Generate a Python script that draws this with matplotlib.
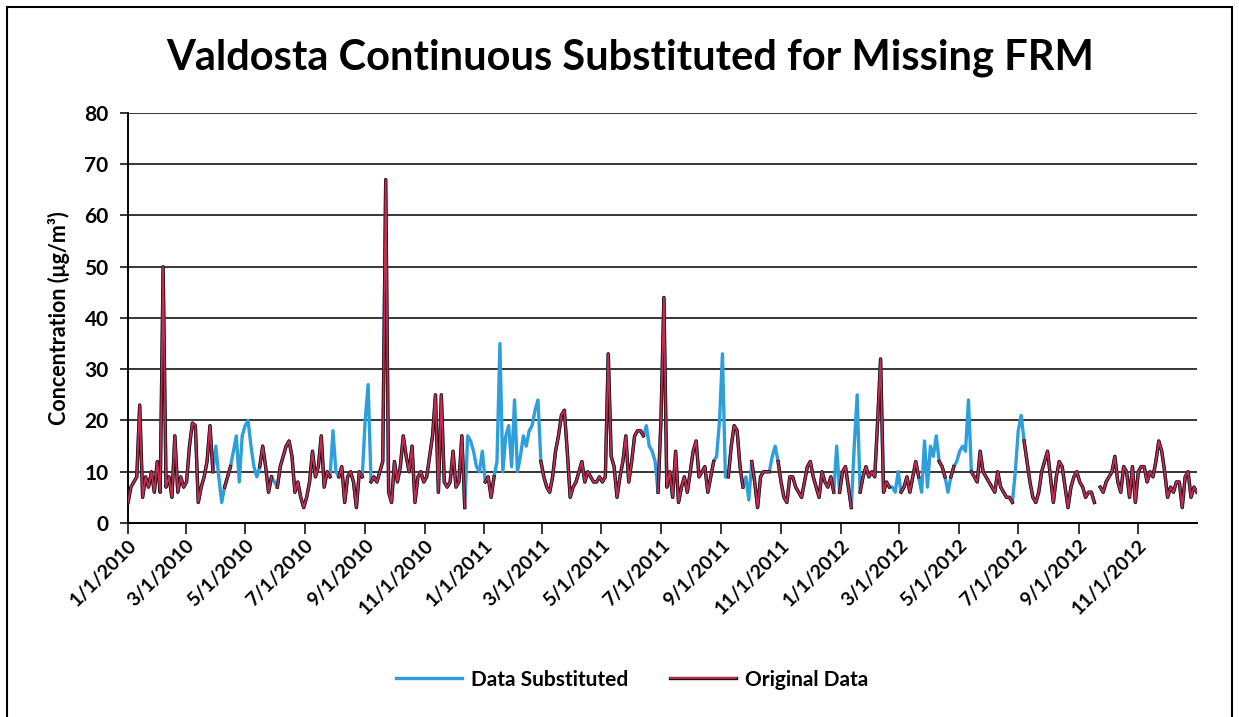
import numpy as np
import pandas as pd
import matplotlib
matplotlib.use("Agg")
from matplotlib import pyplot as plt
import matplotlib.dates as mdates
from matplotlib.lines import Line2D
from matplotlib.patches import Rectangle

plt.rcParams['font.family'] = ['Lato', 'DejaVu Sans']

# PM2.5 concentration, one value every 3 days starting 1/1/2010
conc = [
    4, 7, 8, 9, 23, 5, 9, 7, 10, 6, 12, 6, 50, 7, 9, 5, 17, 6, 9, 7,          # day 0
    8, 15, 19.5, 19, 4, 7, 9, 12, 19, 10, 15, 9, 4, 7, 9, 11, 14, 17, 8, 17,  # day 60
    19, 20, 15, 11, 9, 11, 15, 11, 6, 9, 8, 7, 11, 13, 15, 16, 13, 6, 8, 5,   # day 120
    3, 5, 8, 14, 9, 11, 17, 7, 10, 9, 18, 10, 9, 11, 4, 9, 10, 8, 3, 10,      # day 180
    9, 20, 27, 8, 9, 8, 10, 12, 67, 6, 4, 12, 8, 11, 17, 13, 10, 15, 4, 9,    # day 240
    10, 8, 9, 13, 17, 25, 6, 25, 8, 7, 8, 14, 7, 8, 17, 3, 17, 16, 14, 11,    # day 300
    10, 14, 8, 9, 5, 9, 12, 35, 10, 17, 19, 11, 24, 10, 13, 17, 15, 18, 19, 22,  # day 360
    24, 12, 9, 7, 6, 9, 14, 17, 21, 22, 14, 5, 7, 8, 10, 12, 8, 10, 9, 8,     # day 420
    8, 9, 8, 9, 33, 13, 11, 5, 9, 12, 17, 8, 12, 17, 18, 18, 17, 19, 15, 14,  # day 480
    12, 6, 20, 44, 7, 10, 5, 14, 4, 7, 9, 6, 10, 14, 16, 9, 10, 11, 6, 9,     # day 540
    12, 13, 20, 33, 9, 9, 15, 19, 18, 11, 7, 9, 4.5, 12, 8, 3, 9, 10, 10, 10, # day 600
    13, 15, 12, 8, 5, 4, 9, 9, 7, 6, 5, 8, 11, 12, 9, 7, 5, 10, 8, 7,         # day 660
    9, 6, 15, 6, 10, 11, 7, 3, 15, 25, 6, 9, 11, 9, 10, 9, 20, 32, 6, 8,      # day 720
    7, 7, 6, 10, 6, 7, 9, 6, 9, 12, 9, 6, 16, 7, 15, 13, 17, 12, 11, 9,       # day 780
    6, 9, 11, 12, 14, 15, 14, 24, 10, 9, 8, 14, 10, 9, 8, 7, 6, 10, 7, 6,     # day 840
    5, 5, 4, 10, 18, 21, 16, 12, 8, 5, 4, 6, 10, 12, 14, 9, 4, 9, 12, 11,     # day 900
    7, 3, 7, 9, 10, 8, 7, 5, 6, 6, 4, np.nan, 7, 6, 8, 9, 10, 13, 8, 6,       # day 960
    11, 10, 5, 11, 4, 10, 11, 11, 8, 10, 9, 12, 16, 14, 10, 5, 7, 6, 8, 8,    # day 1020
    3, 9, 10, 5, 7, 6,                                                        # day 1080
]

# periods where the FRM value was missing and continuous data was substituted
subst_periods = [
    ("2010-03-31", "2010-04-07"), ("2010-04-19", "2010-05-02"), ("2010-05-05", "2010-05-13"),
    ("2010-05-30", "2010-06-01"), ("2010-07-29", "2010-08-02"), ("2010-08-31", "2010-09-04"),
    ("2010-12-14", "2010-12-30"), ("2011-01-13", "2011-02-27"), ("2011-06-14", "2011-06-27"),
    ("2011-08-26", "2011-09-05"), ("2011-09-25", "2011-09-29"), ("2011-10-22", "2011-10-26"),
    ("2011-12-27", "2011-12-29"), ("2012-01-14", "2012-01-18"), ("2012-02-22", "2012-02-29"),
    ("2012-03-23", "2012-04-08"), ("2012-04-19", "2012-04-21"), ("2012-04-28", "2012-05-11"),
    ("2012-06-27", "2012-07-04"),
]

dates = pd.date_range("2010-01-01", periods=len(conc), freq="3D")
s = pd.Series(conc, index=dates, dtype=float)
is_sub = pd.Series(False, index=dates)
for a, b in subst_periods:
    is_sub[(dates >= a) & (dates <= b)] = True
orig = s.where(~is_sub)

fig = plt.figure(figsize=(12.39, 7.17), dpi=100)
ax = fig.add_axes([0.1033, 0.2706, 0.8627, 0.5718])

blue = "#2f9fdc"
dark = "#1a0a0c"
pink = "#f2355f"
ax.plot(s.index, s.values, color=blue, lw=2.4, zorder=3)
ax.plot(orig.index, orig.values, color=dark, lw=2.4, zorder=4)
ax.plot(orig.index, orig.values, color=pink, lw=1.3, alpha=0.8, zorder=5)

ax.set_ylim(0, 80)
ax.set_yticks(range(0, 81, 10))
ax.set_xlim(pd.Timestamp("2010-01-01"), pd.Timestamp("2012-12-31"))
ax.xaxis.set_major_locator(mdates.MonthLocator(bymonth=[1, 3, 5, 7, 9, 11]))
ax.xaxis.set_major_formatter(plt.FuncFormatter(
    lambda v, p: "{d.month}/{d.day}/{d.year}".format(d=mdates.num2date(v))))

ax.grid(axis="y", color="black", lw=1.1)
ax.set_axisbelow(True)
for sp in ["top", "right"]:
    ax.spines[sp].set_visible(False)
for sp in ["left", "bottom"]:
    ax.spines[sp].set_color("black")
    ax.spines[sp].set_linewidth(1.4)
ax.tick_params(axis="y", length=6, width=1.1, labelsize=15, pad=8)
ax.tick_params(axis="x", length=8, width=1.1, labelsize=14, pad=2)
for lab in ax.get_yticklabels() + ax.get_xticklabels():
    lab.set_fontweight("bold")
for lab in ax.get_xticklabels():
    lab.set_rotation(45)
    lab.set_ha("right")
    lab.set_rotation_mode("anchor")

ax.set_ylabel("Concentration (μg/m³)", fontsize=15.5, fontweight="bold", labelpad=10)
fig.text(0.509, 0.92, "Valdosta Continuous Substituted for Missing FRM",
         fontsize=30, fontweight="bold", ha="center", va="center")

handles = [Line2D([], [], color=blue, lw=2.4),
           (Line2D([], [], color=dark, lw=2.4),
            Line2D([], [], color=pink, lw=1.3, alpha=0.8))]
fig.legend(handles, ["Data Substituted", "Original Data"], loc="center",
           bbox_to_anchor=(0.51, 0.052), ncol=2, frameon=False,
           prop={"size": 15, "weight": "bold"},
           handlelength=3.2, columnspacing=2.0, handletextpad=0.4)

fig.patches.append(Rectangle((0.006, -0.02), 0.988, 1.01, transform=fig.transFigure,
                             fill=False, edgecolor="black", lw=1.5))

fig.savefig("out.png", dpi=100)
